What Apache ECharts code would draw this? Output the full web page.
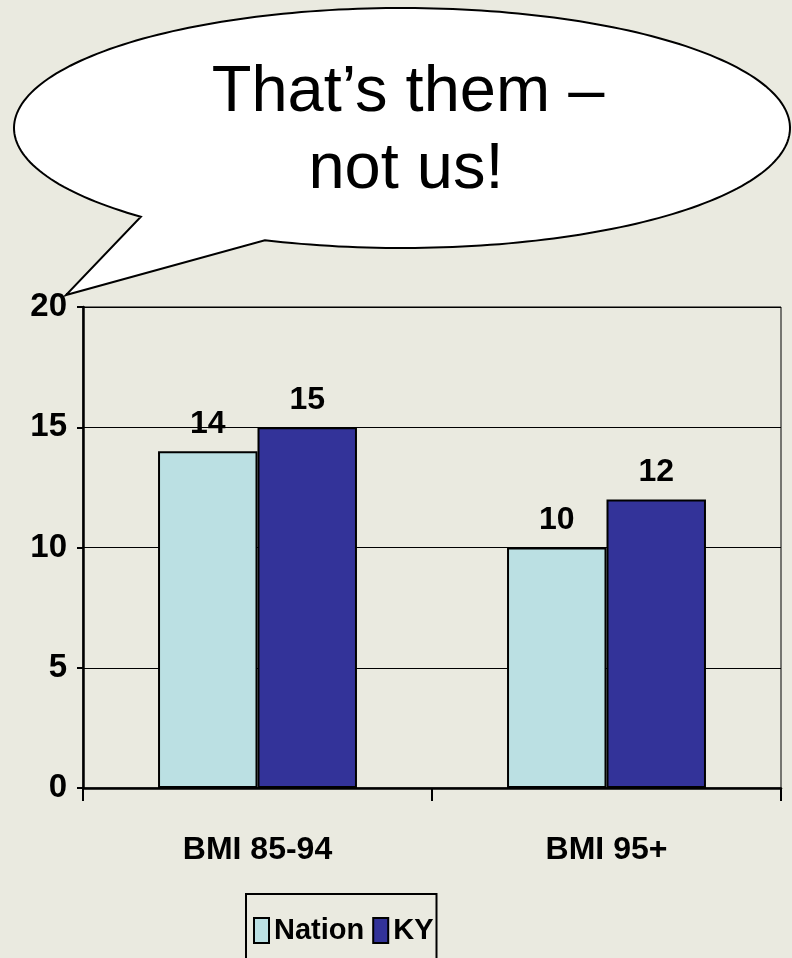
<!DOCTYPE html>
<html>
<head>
<meta charset="utf-8">
<title>BMI: Nation vs KY</title>
<script src="https://cdn.jsdelivr.net/npm/echarts@6/dist/echarts.min.js"></script>
<style>
  html, body { margin: 0; padding: 0; background: #EAEAE0; }
  #chart { width: 792px; height: 958px; }
</style>
</head>
<body>
<div id="chart"></div>
<script>
// Categories and series values
var categories = ['BMI 85-94', 'BMI 95+'];
var nationValues = [14, 10];
var kyValues = [15, 12];
var seriesNames = ['Nation', 'KY'];
var bubbleLines = ['That\u2019s them \u2013', 'not us!'];

var labelFont = '"Liberation Sans Narrow", "Arial Narrow", "Liberation Sans", Arial, sans-serif';

// Speech bubble outline: an ellipse opened between two angles, with a tail tip
function bubbleOutline(cx, cy, rx, ry, startDeg, endDeg, tip) {
  var pts = [];
  var steps = 240;
  for (var i = 0; i <= steps; i++) {
    var a = (startDeg + (endDeg - startDeg) * i / steps) * Math.PI / 180;
    pts.push([cx + rx * Math.cos(a), cy + ry * Math.sin(a)]);
  }
  pts.push(tip);
  return pts;
}
var bubblePoints = bubbleOutline(402, 128, 388, 120, 110.7, 132.3 - 360, [66, 295]);

var chart = echarts.init(document.getElementById('chart'), null, { renderer: 'canvas' });

var labelStyle = {
  show: true,
  position: 'top',
  distance: 11,
  color: '#000',
  fontFamily: labelFont,
  fontWeight: 'bold',
  fontSize: 32
};

chart.setOption({
  backgroundColor: '#EAEAE0',
  animation: false,
  grid: {
    left: 83, right: 11, top: 307, bottom: 170,
    show: true,
    borderColor: '#000',
    borderWidth: 1,
    backgroundColor: 'transparent'
  },
  legend: {
    data: seriesNames,
    left: 246,
    top: 894,
    orient: 'horizontal',
    icon: 'rect',
    itemWidth: 15,
    itemHeight: 25,
    itemGap: 8,
    padding: [22, 3, 40, 7],
    borderColor: '#000',
    borderWidth: 2,
    textStyle: {
      color: '#000',
      fontFamily: labelFont,
      fontWeight: 'bold',
      fontSize: 29
    }
  },
  xAxis: {
    type: 'category',
    data: categories,
    axisLine: { show: true, lineStyle: { color: '#000', width: 2.5 } },
    axisTick: { show: true, length: 13, lineStyle: { color: '#000', width: 2 } },
    axisLabel: {
      color: '#000',
      fontFamily: labelFont,
      fontWeight: 'bold',
      fontSize: 32,
      margin: 46
    }
  },
  yAxis: {
    type: 'value',
    min: 0,
    max: 20,
    interval: 5,
    axisLine: { show: true, lineStyle: { color: '#000', width: 2.5 } },
    axisTick: { show: true, length: 6, lineStyle: { color: '#000', width: 2 } },
    axisLabel: {
      color: '#000',
      fontFamily: labelFont,
      fontWeight: 'bold',
      fontSize: 33,
      margin: 16
    },
    splitLine: { show: true, lineStyle: { color: '#000', width: 1 } }
  },
  series: [
    {
      name: seriesNames[0],
      type: 'bar',
      data: nationValues,
      barGap: '0%',
      barCategoryGap: '43%',
      itemStyle: { color: '#BBE0E3', borderColor: '#000', borderWidth: 2 },
      label: labelStyle
    },
    {
      name: seriesNames[1],
      type: 'bar',
      data: kyValues,
      barGap: '0%',
      barCategoryGap: '43%',
      itemStyle: { color: '#333399', borderColor: '#000', borderWidth: 2 },
      label: labelStyle
    }
  ],
  graphic: [
    {
      type: 'polygon',
      z: 100,
      shape: { points: bubblePoints },
      style: { fill: '#FFFFFF', stroke: '#000', lineWidth: 2 }
    },
    {
      type: 'text',
      z: 101,
      x: 408,
      y: 93,
      style: {
        text: bubbleLines[0],
        fill: '#000',
        font: '65px "Liberation Sans", Arial, sans-serif',
        align: 'center',
        verticalAlign: 'middle'
      }
    },
    {
      type: 'text',
      z: 101,
      x: 406,
      y: 170,
      style: {
        text: bubbleLines[1],
        fill: '#000',
        font: '65px "Liberation Sans", Arial, sans-serif',
        align: 'center',
        verticalAlign: 'middle'
      }
    }
  ]
});
</script>
</body>
</html>
